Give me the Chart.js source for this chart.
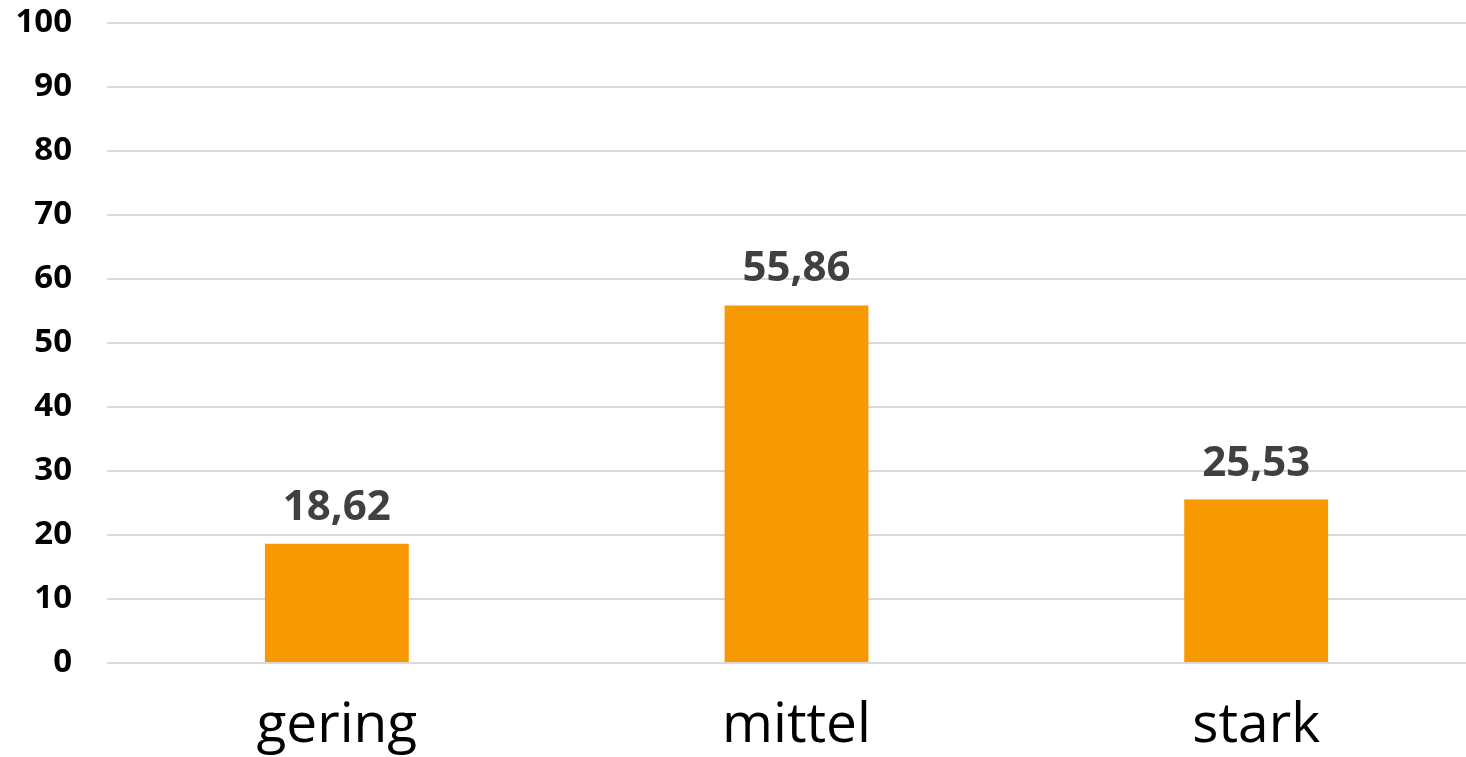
<!DOCTYPE html>
<html>
<head>
<meta charset="utf-8">
<script src="https://cdn.jsdelivr.net/npm/chart.js@4.4.1/dist/chart.umd.min.js"></script>
<style>
    html, body { margin: 0; padding: 0; background: #fff; overflow: hidden; }
    #wrap { width: 1466px; height: 757px; overflow: hidden; }
</style>
</head>
<body>
<div id="wrap"><canvas id="barChart" width="1486" height="757"></canvas></div>
<script>
const categories = ['gering', 'mittel', 'stark'];
const shares = [18.62, 55.86, 25.53];
const yTicks = [0, 10, 20, 30, 40, 50, 60, 70, 80, 90, 100];

const barColor = '#F79900';
const labelColor = '#404040';

// simple value labels above each bar (no datalabels plugin offline)
const valueLabels = {
    id: 'valueLabels',
    afterDatasetsDraw(chart) {
        const ctx = chart.ctx;
        const meta = chart.getDatasetMeta(0);
        ctx.save();
        ctx.font = 'bold 42px "Open Sans"';
        ctx.fillStyle = labelColor;
        ctx.textAlign = 'center';
        ctx.textBaseline = 'alphabetic';
        meta.data.forEach((bar, i) => {
            const txt = shares[i].toFixed(2).replace('.', ',');
            ctx.fillText(txt, bar.x, bar.y - 24);
        });
        ctx.restore();
    }
};

new Chart(document.getElementById('barChart').getContext('2d'), {
    type: 'bar',
    data: {
        labels: categories,
        datasets: [{
            data: shares,
            backgroundColor: barColor,
            borderWidth: 0,
            categoryPercentage: 1,
            barPercentage: 0.313
        }]
    },
    options: {
        responsive: false,
        animation: false,
        layout: { padding: { top: 23, right: 0, left: 0, bottom: 0 } },
        plugins: {
            legend: { display: false },
            tooltip: { enabled: false }
        },
        scales: {
            x: {
                grid: { display: false, drawTicks: false },
                border: { display: false },
                ticks: {
                    color: '#000',
                    padding: 30,
                    font: { family: '"Open Sans"', size: 55 }
                },
                afterFit: (scale) => {
                    scale.height = 94;
                    scale.paddingTop = 0;
                    scale.paddingBottom = 0;
                }
            },
            y: {
                min: 0,
                max: 100,
                afterBuildTicks: (scale) => { scale.ticks = yTicks.map(v => ({ value: v })); },
                grid: { color: '#d9d9d9', lineWidth: 2, drawTicks: false },
                border: { display: false },
                ticks: {
                    color: '#000',
                    padding: 35,
                    font: { family: '"Open Sans"', size: 33, weight: 'bold' }
                },
                afterFit: (scale) => {
                    scale.width = 107;
                    scale.paddingTop = 0;
                    scale.paddingBottom = 0;
                }
            }
        }
    },
    plugins: [valueLabels]
});
</script>
</body>
</html>
